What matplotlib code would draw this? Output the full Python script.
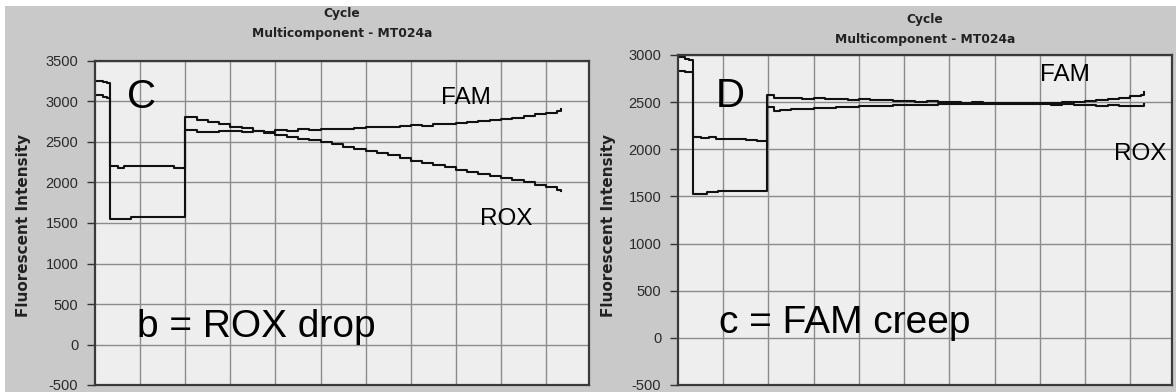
import matplotlib
matplotlib.use("Agg")
import matplotlib.pyplot as plt
from matplotlib.patches import Rectangle

W, H = 1176, 392

# ---- panel C : ROX drop (x = cycle position, y = fluorescence) ----
c_fam_x = [0, 0.7, 1.1, 1.3, 2, 2.6, 4, 5, 6, 7, 7.5,
           8, 9, 10, 11, 12, 13, 14, 15, 16, 17, 18, 19, 20, 21, 22, 23, 24,
           25, 26, 27, 28, 29, 30, 31, 32, 33, 34, 35, 36, 37, 38, 39, 40, 41, 41.3]
c_fam_y = [3250, 3240, 3225, 2205, 2185, 2200, 2205, 2200, 2200, 2185, 2180,
           2645, 2625, 2620, 2630, 2635, 2625, 2640, 2610, 2650, 2640, 2655, 2650, 2660, 2665, 2660, 2675, 2680,
           2685, 2690, 2700, 2705, 2700, 2720, 2725, 2735, 2745, 2755, 2775, 2790, 2800, 2820, 2840, 2860, 2880, 2910]
c_rox_x = [0, 0.7, 1.1, 1.3, 2, 2.6, 3.2, 4, 5, 6, 7, 7.5,
           8, 9, 10, 11, 12, 13, 14, 15, 16, 17, 18, 19, 20, 21, 22, 23, 24,
           25, 26, 27, 28, 29, 30, 31, 32, 33, 34, 35, 36, 37, 38, 39, 40, 41, 41.3]
c_rox_y = [3080, 3060, 3040, 1545, 1550, 1545, 1570, 1575, 1575, 1570, 1575, 1575,
           2810, 2770, 2745, 2720, 2690, 2670, 2640, 2620, 2590, 2565, 2540, 2520, 2495, 2470, 2440, 2415, 2390,
           2360, 2335, 2300, 2270, 2245, 2215, 2190, 2160, 2135, 2105, 2080, 2055, 2030, 2000, 1975, 1945, 1905, 1890]

# ---- panel D : FAM creep ----
d_fam_x = [0, 0.6, 1.0, 1.3, 2, 2.7, 3.4, 4, 5, 6, 7,
           7.9, 8.5, 9, 10, 11, 12, 13, 14, 15, 16, 17, 18, 19, 20, 21, 22, 23, 24,
           25, 26, 27, 28, 29, 30, 31, 32, 33, 34, 35, 36, 37, 38, 39, 40, 41, 41.2]
d_fam_y = [2975, 2960, 2950, 2125, 2115, 2130, 2110, 2105, 2105, 2095, 2090,
           2575, 2545, 2540, 2545, 2535, 2540, 2530, 2535, 2525, 2530, 2520, 2525, 2515, 2515, 2505, 2510, 2500, 2505,
           2495, 2500, 2490, 2495, 2490, 2490, 2495, 2490, 2495, 2500, 2500, 2510, 2520, 2530, 2545, 2560, 2575, 2610]
d_rox_x = [0, 0.6, 1.0, 1.3, 2, 2.6, 3.5, 5, 6, 7,
           7.9, 8.5, 9, 10, 11, 12, 13, 14, 15, 16, 17, 18, 19, 20, 21, 22, 23, 24,
           25, 26, 27, 28, 29, 30, 31, 32, 33, 34, 35, 36, 37, 38, 39, 40, 41, 41.2]
d_rox_y = [2830, 2815, 2820, 1525, 1530, 1550, 1555, 1560, 1555, 1560,
           2445, 2410, 2420, 2425, 2430, 2435, 2440, 2445, 2450, 2455, 2455, 2460, 2465, 2465, 2470, 2470, 2475, 2475,
           2480, 2480, 2480, 2485, 2480, 2480, 2475, 2480, 2470, 2475, 2470, 2465, 2460, 2465, 2455, 2460, 2455, 2475]

c_yticks = [3500, 3000, 2500, 2000, 1500, 1000, 500, 0, -500]
d_yticks = [3000, 2500, 2000, 1500, 1000, 500, 0, -500]
grid_x = [4, 8, 12, 16, 20, 24, 28, 32, 36, 40]

title_top = "Cycle"
title_sub = "Multicomponent - MT024a"
ylab = "Fluorescent Intensity"

OUTER = "#c9c9c9"
INNER = "#eeeeee"
GRID = "#8c8c8c"


def box(l, t, r, b):
    return [l / W, 1 - b / H, (r - l) / W, (b - t) / H]


def fpos(x, y):
    return x / W, 1 - y / H


fig = plt.figure(figsize=(W / 100, H / 100), dpi=100)
fig.add_artist(Rectangle((5 / W, 0), 1 - 5 / W, 1 - 6 / H, transform=fig.transFigure,
                         facecolor=OUTER, edgecolor="none", zorder=0))

panels = [
    dict(rect=box(95, 61, 589, 385), xmax=43.8, ylim=(-500, 3500), ticks=c_yticks,
         series=[(c_fam_x, c_fam_y), (c_rox_x, c_rox_y)],
         big=("C", 4.1, 3060), fam=(32.9, 3040), rox=(36.5, 1545),
         note=("b = ROX drop", 3.7, 90),
         tcx=342, ty=(13, 33), ylx=24),
    dict(rect=box(678, 55, 1172, 385), xmax=43.7, ylim=(-500, 3000), ticks=d_yticks,
         series=[(d_fam_x, d_fam_y), (d_rox_x, d_rox_y)],
         big=("D", 4.6, 2560), fam=(34.2, 2790), rox=(40.9, 1950),
         note=("c = FAM creep", 3.6, 50),
         tcx=925, ty=(20, 40), ylx=609),
]

for p in panels:
    ax = fig.add_axes(p["rect"])
    ax.set_facecolor(INNER)
    ax.set_xlim(0, p["xmax"])
    ax.set_ylim(*p["ylim"])
    ax.set_xticks(grid_x)
    ax.set_yticks(p["ticks"])
    ax.set_yticklabels([str(t) for t in p["ticks"]], family="Liberation Sans",
                       fontsize=10.5, color="#2a2a2a")
    ax.tick_params(axis="x", length=0, labelbottom=False)
    ax.tick_params(axis="y", length=6, width=1, color="#333333", pad=6)
    ax.grid(True, color=GRID, lw=1.0)
    ax.set_axisbelow(True)
    for s in ax.spines.values():
        s.set_color("#3a3a3a")
        s.set_linewidth(1.6)

    for xs, ys in p["series"]:
        ax.plot(xs, ys, drawstyle="steps-post", color="#111111", lw=1.5)

    letter, lx, ly = p["big"]
    ax.text(lx, ly, letter, fontsize=29, family="Liberation Sans", ha="center", va="center")
    ax.text(*p["fam"], "FAM", fontsize=17.5, family="Liberation Sans", ha="center", va="center")
    ax.text(*p["rox"], "ROX", fontsize=17.5, family="Liberation Sans", ha="center", va="center")
    txt, nx, ny = p["note"]
    ax.text(nx, ny, txt, fontsize=28, family="Liberation Sans", ha="left", va="baseline")

    fig.text(*fpos(p["tcx"], p["ty"][0]), title_top, fontsize=8.8, fontweight="bold",
             ha="center", va="center", color="#222222")
    fig.text(*fpos(p["tcx"], p["ty"][1]), title_sub, fontsize=8.8, fontweight="bold",
             ha="center", va="center", color="#222222")
    fig.text(*fpos(p["ylx"], 225), ylab, fontsize=11, fontweight="bold", rotation=90,
             ha="center", va="center", color="#222222")

fig.savefig("out.png", dpi=100)
